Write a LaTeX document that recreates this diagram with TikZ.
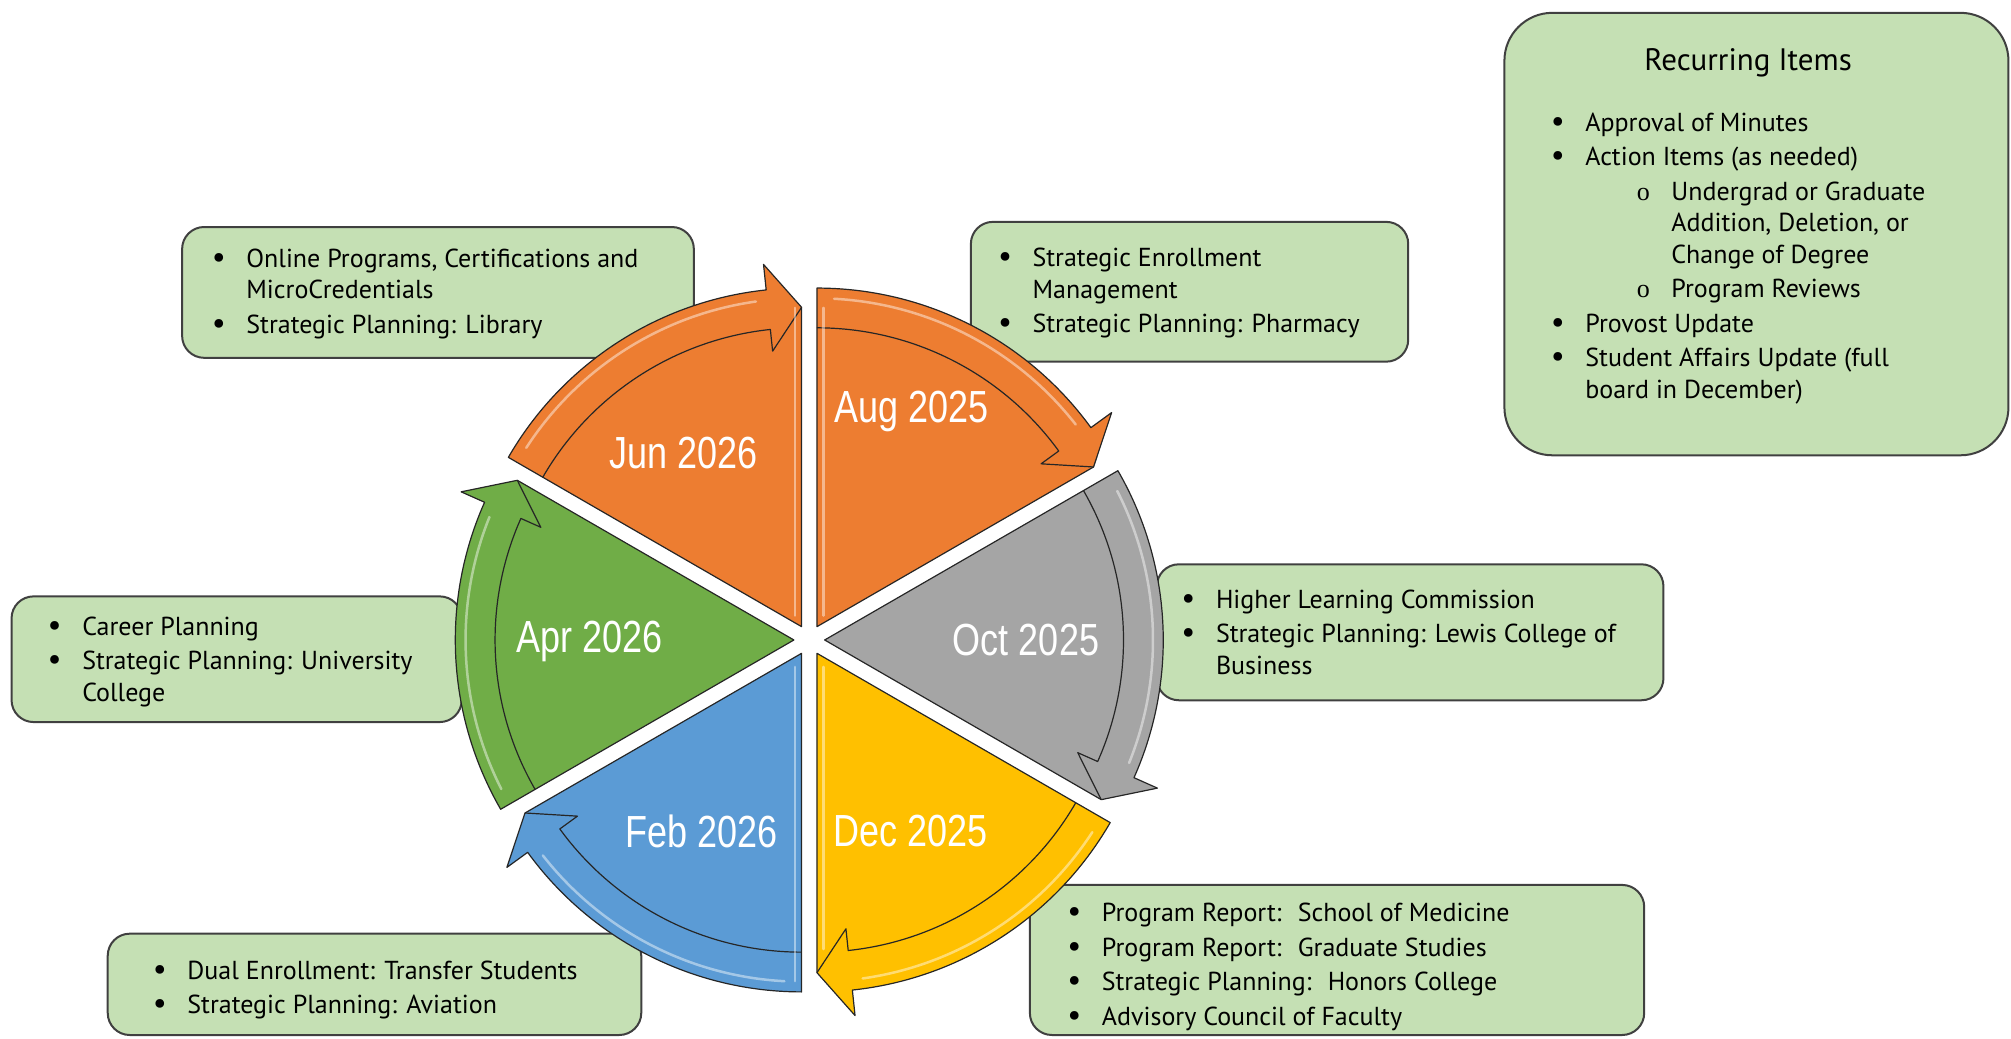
\documentclass[tikz,border=0pt]{standalone}
\usepackage{fontspec}
\setmainfont{PT Sans}
\newfontfamily\monthfont[FakeStretch=0.8]{Liberation Sans}
\newfontfamily\ofont{Liberation Serif}
\usepackage{tikz}
\definecolor{orangeseg}{HTML}{ED7D31}
\definecolor{grayseg}{HTML}{A5A5A5}
\definecolor{yellowseg}{HTML}{FFC000}
\definecolor{blueseg}{HTML}{5B9BD5}
\definecolor{greenseg}{HTML}{70AD47}
\definecolor{boxfill}{HTML}{C5E0B4}
\definecolor{boxline}{HTML}{404040}
\definecolor{segedge}{HTML}{262626}
\newcommand\bul{\makebox[34.6pt][l]{\fontsize{31}{31}\selectfont\textbullet}}
\newcommand\ind{\hspace*{34.6pt}}
\newcommand\subbul{\hspace*{86pt}\makebox[34.6pt][l]{\ofont o}}
\newcommand\subind{\hspace*{120.6pt}}

\begin{document}
\begin{tikzpicture}[x=1.2825pt, y=-1.2825pt,
  infobox/.style={draw=boxline, fill=boxfill, line width=2pt, rounded corners=22pt},
  itemlist/.style={anchor=west, inner sep=0pt, align=left, font=\fontsize{26}{31.5}\selectfont},
  month/.style={text=white, inner sep=0pt, font=\monthfont\fontsize{45}{45}\selectfont},
  segline/.style={draw=segedge, line width=1.2pt, line join=round},
  shine/.style={draw=white, line width=2.5pt, opacity=.45, line cap=round}]
\useasboundingbox (0,0) rectangle (1568,810);

\draw[infobox] (142,177) rectangle (541,279);
\draw[infobox] (757,173) rectangle (1098,282);
\draw[infobox, rounded corners=48pt] (1173,10) rectangle (1566,355);
\draw[infobox] (902,440) rectangle (1297,546);
\draw[infobox] (9,465) rectangle (360,563);
\draw[infobox] (84,728) rectangle (500,807);
\draw[infobox] (803,690) rectangle (1282,807);

\node[itemlist] (junlist) at (165,229) {\bul Online Programs, Certifications and\\ \ind MicroCredentials\\[3pt] \bul Strategic Planning: Library};
\node[itemlist] (auglist) at (778,228.5) {\bul Strategic Enrollment\\ \ind Management\\[3pt] \bul Strategic Planning: Pharmacy};
\node[font=\fontsize{31}{36}\selectfont, inner sep=0pt] (recurtitle) at (1363,49) {Recurring Items};
\node[itemlist] (recurlist) at (1209,201.5) {\bul Approval of Minutes\\[3pt] \bul Action Items (as needed)\\[3pt]
  \subbul Undergrad or Graduate\\ \subind Addition, Deletion, or\\ \subind Change of Degree\\[3pt]
  \subbul Program Reviews\\[3pt] \bul Provost Update\\[3pt] \bul Student Affairs Update (full\\ \ind board in December)};
\node[itemlist] (octlist) at (921,493) {\bul Higher Learning Commission\\[3pt] \bul Strategic Planning: Lewis College of\\ \ind Business};
\node[itemlist] (aprlist) at (37,516) {\bul Career Planning\\[3pt] \bul Strategic Planning: University\\ \ind College};
\node[itemlist] (feblist) at (119,772) {\bul Dual Enrollment: Transfer Students\\[3pt] \bul Strategic Planning: Aviation};
\node[itemlist] (declist) at (832,754) {\bul Program Report:~ School of Medicine\\[3pt] \bul Program Report:~ Graduate Studies\\[3pt] \bul Strategic Planning:~ Honors College\\[3pt] \bul Advisory Council of Faculty};

\begin{scope}[shift={(631,499)}, yscale=-1]
\foreach \s/\col in {90/orangeseg, 30/grayseg, -30/yellowseg, -90/blueseg, -150/greenseg, 150/orangeseg}{
  \begin{scope}[shift={(\s-30:12)}]
    \filldraw[segline, fill=\col] (0,0) -- (\s:264) arc[start angle=\s, end angle=\s-54, radius=264] -- (\s-54:284) -- (\s-60:249) -- cycle;
    \draw[shine] (\s-3:256) arc[start angle=\s-3, end angle=\s-52, radius=256];
    \draw[segline] (\s:233) arc[start angle=\s, end angle=\s-54, radius=233] -- (\s-54:216) -- (\s-60:249);
  \end{scope}
}
\end{scope}
\draw[shine] (620,240) -- (620,480);
\draw[shine] (642,240) -- (642,480);
\draw[shine] (620,520) -- (620,765);
\draw[shine] (642,520) -- (642,740);

\node[month] (jun) at (533,353) {Jun 2026};
\node[month] (aug) at (711,321) {Aug 2025};
\node[month] (oct) at (800,499) {Oct 2025};
\node[month] (apr) at (460,500) {Apr 2026};
\node[month] (feb) at (547,648) {Feb 2026};
\node[month] (dec) at (710,648) {Dec 2025};
\end{tikzpicture}
\end{document}
